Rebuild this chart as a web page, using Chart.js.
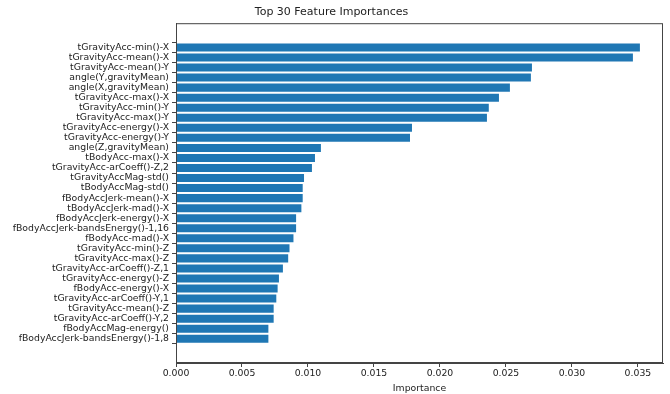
<!DOCTYPE html>
<html lang="en">
<head>
<meta charset="UTF-8">
<title>Top 30 Feature Importances</title>
<script src="https://cdn.jsdelivr.net/npm/chart.js"></script>
<style>
  body { margin: 0; background: #fff; }
  canvas { display: block; }
</style>
</head>
<body>
<canvas id="chart" width="670" height="394"></canvas>
<script>
  // feature names, most important first
  const features = [
    'tGravityAcc-min()-X', 'tGravityAcc-mean()-X', 'tGravityAcc-mean()-Y',
    'angle(Y,gravityMean)', 'angle(X,gravityMean)', 'tGravityAcc-max()-X',
    'tGravityAcc-min()-Y', 'tGravityAcc-max()-Y', 'tGravityAcc-energy()-X',
    'tGravityAcc-energy()-Y', 'angle(Z,gravityMean)', 'tBodyAcc-max()-X',
    'tGravityAcc-arCoeff()-Z,2', 'tGravityAccMag-std()', 'tBodyAccMag-std()',
    'fBodyAccJerk-mean()-X', 'tBodyAccJerk-mad()-X', 'fBodyAccJerk-energy()-X',
    'fBodyAccJerk-bandsEnergy()-1,16', 'fBodyAcc-mad()-X', 'tGravityAcc-min()-Z',
    'tGravityAcc-max()-Z', 'tGravityAcc-arCoeff()-Z,1', 'tGravityAcc-energy()-Z',
    'fBodyAcc-energy()-X', 'tGravityAcc-arCoeff()-Y,1', 'tGravityAcc-mean()-Z',
    'tGravityAcc-arCoeff()-Y,2', 'fBodyAccMag-energy()', 'fBodyAccJerk-bandsEnergy()-1,8'
  ];
  const importances = [
    0.03515, 0.03462, 0.02697, 0.02689, 0.0253, 0.02447,
    0.0237, 0.02356, 0.01788, 0.01773, 0.01098, 0.01053,
    0.0103, 0.0097, 0.0096, 0.0096, 0.0095, 0.0091,
    0.0091, 0.0089, 0.0086, 0.0085, 0.0081, 0.0078,
    0.0077, 0.0076, 0.0074, 0.0074, 0.0070, 0.0070
  ];
  const xTicks = [0, 0.005, 0.010, 0.015, 0.020, 0.025, 0.030, 0.035];

  const font = { family: 'DejaVu Sans', size: 9.3 };
  const ink = '#222';
  const frameColor = '#444';

  // draw the top and right sides of the axes box too
  const frame = {
    id: 'frame',
    afterDraw(chart) {
      const a = chart.chartArea;
      const c = chart.ctx;
      c.save();
      c.strokeStyle = frameColor;
      c.lineWidth = 1;
      c.strokeRect(a.left + 0.5, a.top + 0.5, a.right - a.left - 1, a.bottom - a.top - 1);
      c.restore();
    }
  };

  new Chart(document.getElementById('chart'), {
    type: 'bar',
    data: {
      datasets: [{
        data: importances.map((v, i) => ({ x: v, y: i })),
        backgroundColor: '#1f77b4',
        borderWidth: 0,
        categoryPercentage: 1,
        barPercentage: 0.8
      }]
    },
    options: {
      indexAxis: 'y',
      responsive: false,
      animation: false,
      layout: { padding: { left: 0, right: 7, top: 0, bottom: 0 } },
      plugins: {
        legend: { display: false },
        tooltip: { enabled: false },
        title: {
          display: true,
          text: 'Top 30 Feature Importances',
          color: ink,
          font: { family: 'DejaVu Sans', size: 11, weight: 'normal' },
          padding: { top: 6, bottom: 4 }
        }
      },
      scales: {
        x: {
          type: 'linear',
          min: 0,
          max: 0.0369,
          afterBuildTicks: axis => { axis.ticks = xTicks.map(v => ({ value: v })); },
          afterFit: axis => { axis.height = 31; },
          ticks: {
            color: ink, font, padding: 1,
            callback: v => v.toFixed(3)
          },
          grid: { drawOnChartArea: false, tickLength: 4, tickColor: frameColor },
          border: { color: frameColor },
          title: { display: true, text: 'Importance', color: ink, font, padding: { top: 2, bottom: 0 } }
        },
        y: {
          type: 'linear',
          reverse: true,
          min: -1.85,
          max: 30.85,
          afterBuildTicks: axis => { axis.ticks = features.map((_, i) => ({ value: i })); },
          afterFit: axis => { axis.width = 176; },
          ticks: {
            color: ink, font, padding: 3, autoSkip: false,
            callback: v => features[v]
          },
          grid: { drawOnChartArea: false, tickLength: 4, tickColor: frameColor },
          border: { color: frameColor }
        }
      }
    },
    plugins: [frame]
  });
</script>
</body>
</html>
